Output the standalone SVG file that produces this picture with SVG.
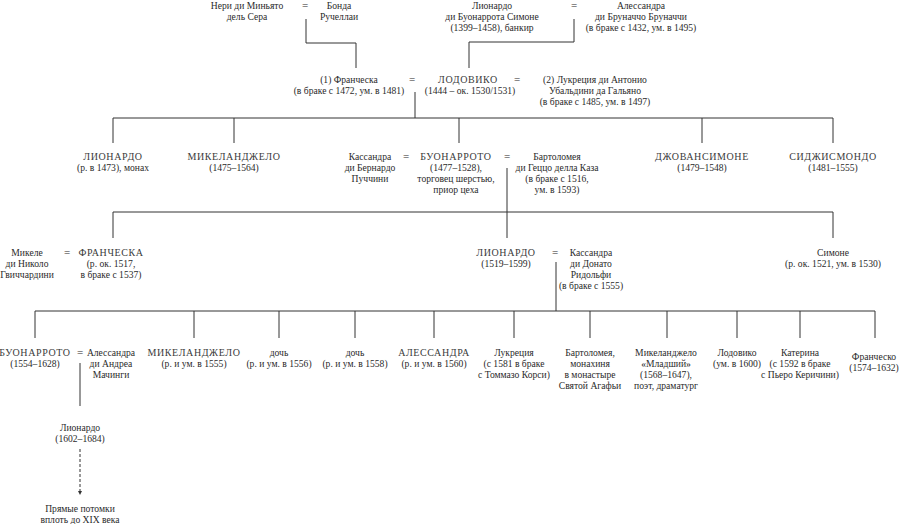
<svg xmlns="http://www.w3.org/2000/svg" width="900" height="524" viewBox="0 0 900 524">
<style>
text{font-family:"Liberation Serif","DejaVu Serif",serif;font-size:9.6px;fill:#2a2a2a;text-anchor:middle}
.cap{font-size:10px;letter-spacing:0.6px;fill:#3a3a3a}
.eq{font-size:11px}
.ln{stroke:#333;stroke-width:1;fill:none}
.dash{stroke:#333;stroke-width:1;fill:none;stroke-dasharray:3 2}
</style>
<defs>
<marker id="ah" markerWidth="6" markerHeight="6" refX="3" refY="3" orient="auto" markerUnits="userSpaceOnUse">
<path d="M0,1 L4,3 L0,5 Z" fill="#333"/>
</marker>
</defs>
<rect width="900" height="524" fill="#fff"/>
<g id="connectors">
<path class="ln" d="M306,19 V43 H356 V68"/>
<path class="ln" d="M574,19 V42 H469 V68"/>
<path class="ln" d="M415,92 V118"/>
<path class="ln" d="M113,143 V118 H833 V143"/>
<path class="ln" d="M234,118 V143 M459,118 V143 M702,118 V143"/>
<path class="ln" d="M507,168 V238"/>
<path class="ln" d="M113,238 V212 H833 V238"/>
<path class="ln" d="M556,262 V311"/>
<path class="ln" d="M35,338 V311 H875 V338"/>
<path class="ln" d="M194,311 V338 M279,311 V338 M355,311 V338 M434,311 V338 M514,311 V338 M590,311 V338 M667,311 V338 M737,311 V338 M800,311 V338"/>
<path class="ln" d="M80,363 V406"/>
<path class="dash" d="M80,449 V494" marker-end="url(#ah)"/>
</g>
<g id="eq-signs">
<text class="eq" x="305" y="9">=</text>
<text class="eq" x="574" y="9">=</text>
<text class="eq" x="412" y="83">=</text>
<text class="eq" x="517" y="83">=</text>
<text class="eq" x="406" y="160">=</text>
<text class="eq" x="507" y="160">=</text>
<text class="eq" x="67" y="256">=</text>
<text class="eq" x="555" y="256">=</text>
<text class="eq" x="80" y="356">=</text>
</g>
<g id="neri"><text x="247" y="9">Нери ди Миньято</text><text x="247" y="20">дель Сера</text></g>
<g id="bonda"><text x="339" y="9">Бонда</text><text x="339" y="20">Ручеллаи</text></g>
<g id="lionardo-sr"><text x="492" y="9">Лионардо</text><text x="492" y="20">ди Буонаррота Симоне</text><text x="492" y="31">(1399–1458), банкир</text></g>
<g id="alessandra-br"><text x="641" y="9">Алессандра</text><text x="641" y="20">ди Бруначчо Бруначчи</text><text x="641" y="31">(в браке с 1432, ум. в 1495)</text></g>
<g id="francesca1"><text x="349" y="83">(1) Франческа</text><text x="349" y="94">(в браке с 1472, ум. в 1481)</text></g>
<g id="lodovico"><text class="cap" x="468" y="83">ЛОДОВИКО</text><text x="470" y="94">(1444 – ок. 1530/1531)</text></g>
<g id="lucrezia2"><text x="595" y="83">(2) Лукреция ди Антонио</text><text x="595" y="94">Убальдини да Гальяно</text><text x="595" y="105">(в браке с 1485, ум. в 1497)</text></g>
<g id="lionardo-monk"><text class="cap" x="113" y="160">ЛИОНАРДО</text><text x="113" y="171">(р. в 1473), монах</text></g>
<g id="michelangelo"><text class="cap" x="234" y="160">МИКЕЛАНДЖЕЛО</text><text x="234" y="171">(1475–1564)</text></g>
<g id="cassandra-p"><text x="370" y="160">Кассандра</text><text x="370" y="171">ди Бернардо</text><text x="370" y="182">Пуччини</text></g>
<g id="buonarroto"><text class="cap" x="456" y="160">БУОНАРРОТО</text><text x="456" y="171">(1477–1528),</text><text x="456" y="182">торговец шерстью,</text><text x="456" y="193">приор цеха</text></g>
<g id="bartolomea"><text x="557" y="160">Бартоломея</text><text x="557" y="171">ди Геццо делла Каза</text><text x="557" y="182">(в браке с 1516,</text><text x="557" y="193">ум. в 1593)</text></g>
<g id="giovansimone"><text class="cap" x="702" y="160">ДЖОВАНСИМОНЕ</text><text x="702" y="171">(1479–1548)</text></g>
<g id="sigismondo"><text class="cap" x="833" y="160">СИДЖИСМОНДО</text><text x="833" y="171">(1481–1555)</text></g>
<g id="michele"><text x="27" y="256">Микеле</text><text x="27" y="267">ди Николо</text><text x="27" y="278">Гвиччардини</text></g>
<g id="francesca"><text class="cap" x="111" y="256">ФРАНЧЕСКА</text><text x="111" y="267">(р. ок. 1517,</text><text x="111" y="278">в браке с 1537)</text></g>
<g id="lionardo2"><text class="cap" x="506" y="256">ЛИОНАРДО</text><text x="506" y="267">(1519–1599)</text></g>
<g id="cassandra-r"><text x="591" y="256">Кассандра</text><text x="591" y="267">ди Донато</text><text x="591" y="278">Ридольфи</text><text x="591" y="289">(в браке с 1555)</text></g>
<g id="simone"><text x="833" y="256">Симоне</text><text x="833" y="267">(р. ок. 1521, ум. в 1530)</text></g>
<g id="buonarroto2"><text class="cap" x="35" y="356">БУОНАРРОТО</text><text x="35" y="367">(1554–1628)</text></g>
<g id="alessandra-m"><text x="111" y="356">Алессандра</text><text x="111" y="367">ди Андреа</text><text x="111" y="378">Мачинги</text></g>
<g id="michelangelo2"><text class="cap" x="194" y="356">МИКЕЛАНДЖЕЛО</text><text x="194" y="367">(р. и ум. в 1555)</text></g>
<g id="daughter1"><text x="279" y="356">дочь</text><text x="279" y="367">(р. и ум. в 1556)</text></g>
<g id="daughter2"><text x="355" y="356">дочь</text><text x="355" y="367">(р. и ум. в 1558)</text></g>
<g id="alessandra2"><text class="cap" x="434" y="356">АЛЕССАНДРА</text><text x="434" y="367">(р. и ум. в 1560)</text></g>
<g id="lucrezia"><text x="514" y="356">Лукреция</text><text x="514" y="367">(с 1581 в браке</text><text x="514" y="378">с Томмазо Корси)</text></g>
<g id="bartolomea2"><text x="590" y="356">Бартоломея,</text><text x="590" y="367">монахиня</text><text x="590" y="378">в монастыре</text><text x="590" y="389">Святой Агафьи</text></g>
<g id="michelangelo-jr"><text x="666" y="356">Микеланджело</text><text x="666" y="367">«Младший»</text><text x="666" y="378">(1568–1647),</text><text x="666" y="389">поэт, драматург</text></g>
<g id="lodovico2"><text x="737" y="356">Лодовико</text><text x="737" y="367">(ум. в 1600)</text></g>
<g id="caterina"><text x="800" y="356">Катерина</text><text x="800" y="367">(с 1592 в браке</text><text x="800" y="378">с Пьеро Керичини)</text></g>
<g id="francesco"><text x="874" y="360">Франческо</text><text x="874" y="371">(1574–1632)</text></g>
<g id="lionardo3"><text x="80" y="431">Лионардо</text><text x="80" y="442">(1602–1684)</text></g>
<g id="descendants"><text x="80" y="512">Прямые потомки</text><text x="80" y="523">вплоть до XIX века</text></g>
</svg>
